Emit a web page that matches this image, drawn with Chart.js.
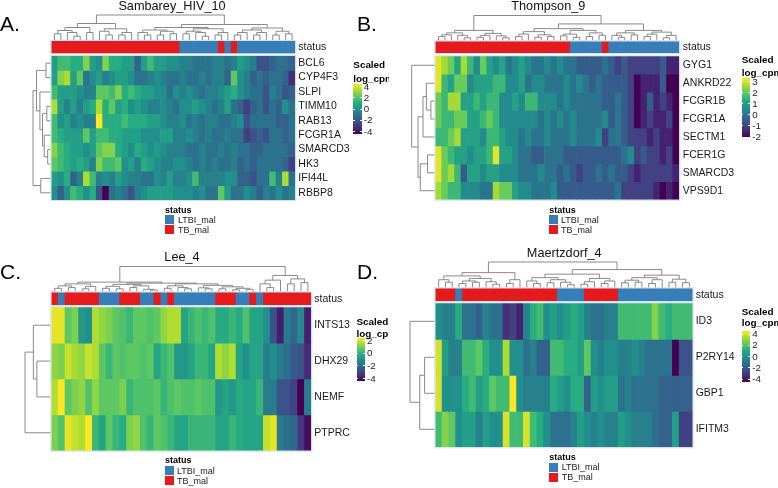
<!DOCTYPE html>
<html>
<head>
<meta charset="utf-8">
<title>Signature heatmaps</title>
<script src="https://cdn.jsdelivr.net/npm/chart.js@4.4.1/dist/chart.umd.min.js"></script>
<style>
  body { margin: 0; width: 778px; height: 488px; position: relative; overflow: hidden; background: #fff;
         font-family: "Liberation Sans", Arial, sans-serif; color: #111; }
  .panel { position: absolute; width: 389px; height: 244px; overflow: hidden; }
  .panel canvas { position: absolute; left: 0; top: 0; }
  .txt { position: absolute; white-space: nowrap; line-height: 1; transform: translateY(-50%); }
  .title { transform: translate(-50%, -50%); font-size: 12.7px; }
  .letter { position: absolute; font-size: 21px; line-height: 21px; color: #000; }
</style>
</head>
<body>
<div class="panel" id="panelA" style="left:0;top:0"><canvas id="chartA" width="389" height="244"></canvas></div>
<div class="panel" id="panelB" style="left:389px;top:0"><canvas id="chartB" width="389" height="244"></canvas></div>
<div class="panel" id="panelC" style="left:0;top:244px"><canvas id="chartC" width="389" height="244"></canvas></div>
<div class="panel" id="panelD" style="left:389px;top:244px"><canvas id="chartD" width="389" height="244"></canvas></div>
<div class="letter" style="left:0;top:12.6px">A.</div>
<div class="letter" style="left:357px;top:12.6px">B.</div>
<div class="letter" style="left:0;top:260.6px">C.</div>
<div class="letter" style="left:357px;top:260.6px">D.</div>
<script>
// ---- data ----
const sampleLabels = Array.from({ length: 38 }, (_, i) => "S" + (i + 1));
const statusNames = ["LTBI_mal", "TB_mal"];

// status per sample, written as runs of [group, count]
const statusRunsA = [["T", 20], ["L", 6], ["T", 1], ["L", 1], ["T", 1], ["L", 9]];
const statusRunsB = [["T", 21], ["L", 5], ["T", 1], ["L", 11]];
const statusRunsC = [["T", 1], ["L", 1], ["T", 5], ["L", 3], ["T", 3], ["L", 2], ["T", 1], ["L", 1], ["T", 1],
                     ["L", 6], ["T", 3], ["L", 2], ["T", 1], ["L", 1], ["T", 7]];
const statusRunsD = [["T", 3], ["L", 1], ["T", 14], ["L", 4], ["T", 5], ["L", 11]];

const genesA = ["BCL6", "CYP4F3", "SLPI", "TIMM10", "RAB13", "FCGR1A", "SMARCD3", "HK3", "IFI44L", "RBBP8"];
const valuesA = [
  [0.5,1.5,1.5,1,1,2.5,0.5,0,2.5,1,1,0.5,0.5,-1.5,0.5,1.5,0.5,0.5,0,0,-0.5,-0.5,-1,-1,-1,-0.5,-0.5,-1,-0.5,0.5,0,-0.5,-2,-2,-1.5,-1,-1,-1.5],
  [0.5,2.5,3,0.5,2,-1,0,0.5,-0.5,0,0.5,0.5,0,-1,-1,-0.5,0,-0.5,-1,-1,-0.5,-1,-1,-0.5,-1,-0.5,-0.5,-1.5,2,0,-0.5,-1.5,-1,-1.5,-1,-1,-1.5,-3],
  [1.5,0.5,0.5,0.5,0,-0.5,-0.5,2,2,1.5,2.5,1,1.5,1,0.5,0.5,0,0,-1,0,-0.5,0,-0.5,-1,-0.5,-0.5,0,0.5,1,0,-0.5,-1,-1,-2,-0.5,-1,-2,-1.5],
  [3,0.5,-0.5,0.5,-0.5,0.5,1,3,1,2,0.5,1,0,0.5,0,-0.5,-0.5,0,-0.5,-1,0,0,0.5,0,-0.5,-1,-0.5,0.5,-1,-1.5,-2.5,-1.5,-1,-2,-1,-1.5,0,-1],
  [1.5,0,0.5,-0.5,0,-0.5,-0.5,4,1,1,1,1.5,1,1,1,0.5,0.5,0,-0.5,-0.5,0,-1,-0.5,-1,-0.5,-0.5,-1,-1,-0.5,0,-2,-1,-1,-1,-1,-1.5,-1.5,-1],
  [1.5,1,0.5,0.5,0.5,2,0.5,1.5,1.5,1,1,0.5,0.5,0.5,0,0,0,0.5,0.5,-0.5,-0.5,0,-0.5,-1,-0.5,-1,-1,-0.5,-1,-1,-2.5,-2,-1.5,-2,-1,-1,-1.5,-1],
  [2.5,1.5,1,0.5,0.5,0,0.5,2,2.5,2.5,1,0.5,0,1,0.5,0,0.5,0,-0.5,-0.5,-0.5,-1,-1,-0.5,-1,-1,-0.5,-1,-0.5,-1,-1,-1.5,-1.5,-1,-1,-1,-1,-1.5],
  [2,1.5,1,0.5,1,0.5,-0.5,2.5,1.5,1.5,2,0,0.5,-0.5,1,0.5,0,-0.5,-0.5,0,0,-0.5,-1,-0.5,-1,-0.5,-1,-1,-0.5,-1.5,-1,-1.5,-1,-1,-1,-1,-1.5,-2.5],
  [0.5,0,1,-1.5,-0.5,3,1.5,-0.5,0,-0.5,0.5,0,-0.5,-0.5,-1,-1,0,-0.5,0.5,-0.5,-0.5,0,1.5,-0.5,-0.5,-0.5,-0.5,0,0,-1.5,-1.5,-2,-1,-1,1.5,-0.5,3,-1],
  [0,-1.5,0,1.5,1,0,1,-2,-4,-1,-0.5,-1,-2,-0.5,0,0.5,0.5,0.5,0.5,0,0,0,-0.5,0,-1,-1,2,0.5,-1,-1,0,-0.5,-1.5,-0.5,-1,0,-1,-0.5]
];

const genesB = ["GYG1", "ANKRD22", "FCGR1B", "FCGR1A", "SECTM1", "FCER1G", "SMARCD3", "VPS9D1"];
const valuesB = [
  [3,2.5,2,1,2.5,1.5,0.5,2,1,0.5,1,0,0.5,1,0.5,0,0,0.5,0,0.5,0,0,-0.5,-0.5,-0.5,-0.5,0,-0.5,-1,-0.5,-1,-1,-1,-1,-1,-0.5,-1.5,-1.5],
  [3,1.5,1,2,2,0.5,1,1,1,1.5,1.5,0.5,0.5,1,0,0.5,0.5,0,0,0,0.5,0,0.5,0,-0.5,0,-0.5,-0.5,-0.5,-0.5,-1,-2,-1.5,-1.5,-1.5,-0.5,-2,-2],
  [2,1.5,2.5,2.5,1,1,1.5,1,1.5,1.5,0.5,0.5,1,0.5,1.5,1.5,0.5,0.5,0.5,0,0.5,0,0,0,0,0,-0.5,-0.5,0,-0.5,-1,-2,-1.5,-0.5,-1.5,-1,-1.5,-2],
  [2,1.5,1.5,2,2,1,1,1.5,2,1.5,0.5,0.5,0.5,0.5,0.5,0.5,0,0.5,0,0.5,0,0.5,0,0,0,0,0.5,-0.5,0,-0.5,-1,-2,-1.5,-1,-1.5,-1.5,-1,-2],
  [1.5,1.5,2,2.5,1,1,1,0.5,1.5,1.5,1,0.5,0.5,0,0.5,0,0,0.5,0,0,0,0.5,0,0,0,0.5,-1,0,0,-0.5,-1,-1,-1,-1.5,-1,-1.5,-1.5,-2],
  [3,2,1.5,1,1,0.5,1,1,1.5,3,1,1,0.5,0,0,-0.5,-0.5,0,0,0,-0.5,-0.5,-0.5,-0.5,-0.5,-0.5,-0.5,-0.5,-0.5,0,0.5,-1,-0.5,-1,-1,-1.5,-1,-2],
  [3,2,2.5,1.5,-0.5,1,1,0.5,1,1,0.5,0.5,0.5,0,0,0,0.5,0,0,-0.5,0,-0.5,-1,-0.5,-0.5,0,-0.5,0,-0.5,-0.5,-1,-1.5,-1,-1,-1,-1,-1,-1.5],
  [2.5,2,1.5,1.5,0.5,0.5,0.5,0,0,2.5,2,2,1,0.5,0.5,0,0,0,0.5,-0.5,-0.5,-0.5,-0.5,-0.5,-0.5,-0.5,-0.5,-0.5,0,-1,-1,-1,-1,-1,-1.5,-2,-1.5,-2]
];

const genesC = ["INTS13", "DHX29", "NEMF", "PTPRC"];
const valuesC = [
  [1.8,1.8,0.5,0.8,-0.8,-1,1.3,1,0.8,0.5,0.3,0,0.5,0.5,0.3,0.5,1,1.3,1.3,-0.5,0,0.3,0,0.3,-0.3,-0.3,0,-0.3,0.3,-0.5,-0.5,-1,-2.5,-3.5,-1.5,-2,-1.2,-3.5],
  [1,0.8,1.5,1.2,1,1.5,1.3,0.5,0,0.5,0.3,0.5,0.5,0.3,0.5,-0.5,0,0.3,-0.8,-0.8,-0.5,0,0,-0.5,1.3,1,1.3,-0.5,-1,-0.5,-0.5,-1.5,-1,-1.5,-1.8,-2.3,-2.5,-3.3],
  [1.3,2,0.5,0.8,1,0.3,1,0.5,0.5,0.5,0.8,0,0.3,0.3,0.3,0.5,0,0.3,0.5,0.3,0.3,0.5,0.3,0.3,-0.8,-0.5,-0.8,-0.3,-0.5,-0.5,0,-1.5,-1.5,-2.5,-2.5,-2.8,-4,-1.5],
  [0.8,0.3,1.8,1.5,1.3,2,0,-0.5,0.5,0,-0.3,0.8,1,0.3,0,0.5,0.3,0,-0.5,-0.5,0,0,0,0,-0.5,-0.5,0,-0.3,-0.5,-0.5,-0.5,1.5,1.8,-1.5,-1.8,-2,-3,-3.8]
];

const genesD = ["ID3", "P2RY14", "GBP1", "IFITM3"];
const valuesD = [
  [0,-0.5,-0.5,1,-1,-1,-1.5,-0.5,-1,-1,-3,-2.5,-3.3,-0.5,1,1.5,0,0.5,0,0.5,1,0.5,-0.5,-1,-1,-0.5,-0.5,1.5,1.5,1.5,1.5,1.5,2.5,1.5,1,1.5,1.5,1.5],
  [3.5,0.5,-0.5,-0.5,1.5,1.5,2,1,0,0,3,0,0,-1,-0.5,-1.5,-1.5,1.5,1.5,1,1,0.5,2,0,-0.5,0,0,-0.5,-0.5,0,-0.5,-1,-1,-1,-1,-4,-2,-2],
  [3.5,0,0,0,1,1.5,0.5,1,2,1.5,1.5,4,0,-0.5,-0.5,-0.5,-0.5,1,0.5,0,1,1,-1.5,0.5,0,0.5,0.5,-1,-0.5,-1,-1,-1,-1,-1.5,-1.5,-1.5,-1.5,-1.5],
  [1.5,2.5,2,0,0.5,0.5,-0.5,0.5,0,0,3.5,1.5,1.5,3.5,1.5,1,0,-1,-1,-1,-0.5,0.5,0,-0.5,0,-0.5,-0.5,0.5,0,-0.5,-0.5,-0.5,-1,-1.5,-1.5,0.5,-2.5,-2.5]
];

// colour scale limits and legend ticks
const rangeA = [-4, 4], ticksA = [4, 2, 0, -2, -4];
const rangeB = [-2, 3.2], ticksB = [3, 2, 1, 0, -1, -2];
const rangeC = [-4, 2], ticksC = [2, 0, -2, -4];
const rangeD = [-4, 4], ticksD = [4, 2, 0, -2, -4];

// dendrograms: [height, left, right], leaves are sample / gene indexes
const colTreeA = [1.0,
  [0.66,
    [0.5, [0.38, [0.25, 0, 1], [0.3, 2, [0.15, 3, 4]]], [0.3, 5, 6]],
    [0.45, [0.35, 7, [0.2, 8, 9]], [0.3, [0.2, 10, 11], 12]]],
  [0.62,
    [0.5, [0.4, [0.3, 13, [0.2, 14, 15]], [0.35, [0.2, 16, 17], [0.25, 18, 19]]],
          [0.45, [0.35, [0.25, 20, 21], [0.3, 22, [0.15, 23, 24]]], [0.3, [0.2, 25, 26], 27]]],
    [0.48, [0.4, [0.3, [0.2, 28, 29], 30], [0.3, [0.2, 31, 32], 33]], [0.35, [0.2, 34, 35], [0.25, 36, 37]]]]];
const rowTreeA = [1.0, [0.8, [0.25, 0, 1], [0.6, 2, [0.45, [0.2, 3, 4], [0.35, 5, [0.15, 6, 7]]]]], [0.55, 8, 9]];

const colTreeB = [1.0,
  [0.4, [0.3, [0.22, [0.15, 0, 1], 2], [0.2, 3, [0.1, 4, 5]]], [0.28, [0.2, [0.12, 6, 7], 8], [0.18, 9, [0.1, 10, 11]]]],
  [0.66,
    [0.47, [0.35, [0.25, [0.15, 12, 13], 14], [0.22, [0.12, 15, 16], [0.15, 17, 18]]],
           [0.4, [0.25, [0.18, 19, 20], [0.12, 21, 22]], [0.3, [0.15, 23, 24], [0.2, 25, 26]]]],
    [0.4, [0.3, [0.2, 27, [0.12, 28, 29]], [0.22, 30, 31]], [0.33, [0.25, [0.15, 32, 33], 34], [0.2, [0.1, 35, 36], 37]]]]];
const rowTreeB = [1.0, 0, [0.72, [0.5, [0.35, 1, [0.15, 2, 3]], 4], [0.62, [0.3, 5, 6], 7]]];

const colTreeC = [1.0,
  [0.37,
    [0.3, [0.22, [0.12, 0, 1], [0.15, 2, 3]], [0.2, [0.1, 4, 5], 6]],
    [0.33,
      [0.28, [0.2, [0.12, 7, 8], [0.1, 9, 10]], [0.22, [0.15, 11, 12], [0.08, 13, [0.05, 14, 15]]]],
      [0.3, [0.22, [0.12, 16, 17], [0.15, 18, [0.1, 19, 20]]],
            [0.24, [0.14, 21, [0.1, 22, 23]], [0.18, [0.1, 24, 25], [0.12, [0.06, 26, 27], [0.08, 28, 29]]]]]]],
  [0.64, [0.45, [0.3, 30, [0.15, 31, 32]], 33], [0.5, [0.3, 34, 35], [0.35, 36, 37]]]];
const rowTreeC = [1.0, [0.67, 0, [0.53, 1, 2]], 3];

const colTreeD = [1.0,
  [0.58, [0.45, [0.3, 0, [0.2, 1, 2]], [0.35, [0.25, [0.15, 3, 4], [0.2, 5, 6]], [0.22, 7, [0.12, 8, 9]]]],
         [0.3, [0.15, 10, 11], 12]],
  [0.7,
    [0.52, [0.38, [0.25, 13, [0.15, 14, 15]], [0.3, [0.18, 16, 17], [0.2, 18, [0.1, 19, 20]]]],
           [0.35, [0.22, [0.12, 21, 22], 23], [0.25, [0.15, 24, 25], 26]]],
    [0.48, [0.38, [0.28, [0.18, 27, 28], [0.2, 29, 30]], [0.3, [0.15, 31, 32], 33]], [0.32, [0.2, 34, 35], [0.18, 36, 37]]]]];
const rowTreeD = [1.0, 0, [0.6, [0.4, 1, 2], 3]];

// ---- helpers ----
const viridisStops = ["#440154", "#472D7B", "#3B528B", "#2C728E", "#21908C", "#27AD81", "#5DC863", "#AADC32", "#FDE725"];
const statusColors = { T: "#E41A1C", L: "#377EB8" };

function hexRgb(h) {
  return [parseInt(h.slice(1, 3), 16), parseInt(h.slice(3, 5), 16), parseInt(h.slice(5, 7), 16)];
}

function viridis(t) {
  t = Math.max(0, Math.min(1, t));
  const p = t * (viridisStops.length - 1);
  const i = Math.min(Math.floor(p), viridisStops.length - 2);
  const f = p - i;
  const a = hexRgb(viridisStops[i]), b = hexRgb(viridisStops[i + 1]);
  const c = a.map((v, k) => Math.round(v + (b[k] - v) * f));
  return `rgb(${c[0]},${c[1]},${c[2]})`;
}

function expandRuns(runs) {
  const out = [];
  runs.forEach(([g, n]) => { for (let i = 0; i < n; i++) out.push(g); });
  return out;
}

function addText(panel, text, x, y, style, cls) {
  const d = document.createElement("div");
  d.className = cls || "txt";
  d.textContent = text;
  d.style.cssText = `left:${x}px;top:${y}px;${style || ""}`;
  panel.appendChild(d);
  return d;
}

function addBox(panel, x, y, w, h, bg) {
  const d = document.createElement("div");
  d.style.cssText = `position:absolute;left:${x}px;top:${y}px;width:${w}px;height:${h}px;background:${bg};`;
  panel.appendChild(d);
}

function colorLegend(panel, lg, ticks) {
  addText(panel, "Scaled", lg.x, lg.scaledY, "font-size:9.9px;font-weight:bold;color:#000");
  addText(panel, "log_cpm", lg.x, lg.logY, "font-size:9.9px;font-weight:bold;color:#000");
  addBox(panel, lg.x, lg.barTop, 8.5, lg.barBot - lg.barTop,
    `linear-gradient(to top, ${viridisStops.join(",")})`);
  const step = (lg.tickBot - lg.tickTop) / (ticks.length - 1);
  ticks.forEach((t, i) => {
    const yy = lg.tickTop + i * step;
    addBox(panel, lg.x, yy - 0.5, 1.8, 1, "#fff");
    addBox(panel, lg.x + 6.7, yy - 0.5, 1.8, 1, "#fff");
    addText(panel, String(t), lg.x + 10.5, yy, "font-size:9.8px;color:#222");
  });
}

function statusLegend(panel, sl) {
  addText(panel, "status", sl.x, sl.titleY, "font-size:9px;font-weight:bold;color:#000");
  addBox(panel, sl.x, sl.box1, 9, 9, statusColors.L);
  addBox(panel, sl.x, sl.box2, 9, 9, statusColors.T);
  addText(panel, statusNames[0], sl.textX, sl.box1 + 4.5, "font-size:9px;color:#222");
  addText(panel, statusNames[1], sl.textX, sl.box2 + 4.5, "font-size:9px;color:#222");
}

Chart.defaults.font.family = '"Liberation Sans", Arial, sans-serif';

function drawHeatmap(canvasId, genes, values, status, range, colTree, rowTree, box) {
  const n = genes.length;
  const W = 389, H = 244;
  const rowPx = (box.heatBot - box.heatTop) / n;
  const gap = (box.heatTop - box.statusBot) / rowPx;
  const statusSpan = (box.statusBot - box.statusTop) / rowPx;
  const yMin = -(gap + statusSpan);
  const toColor = (v) => viridis((v - range[0]) / (range[1] - range[0]));

  const cell = { barPercentage: 1, categoryPercentage: 1, grouped: false, borderWidth: 0 };
  const datasets = [Object.assign({
    data: status.map(() => [yMin, -gap]),
    backgroundColor: status.map((s) => statusColors[s]),
  }, cell)];
  values.forEach((row, r) => {
    datasets.push(Object.assign({
      data: row.map(() => [r, r + 1]),
      backgroundColor: row.map(toColor),
    }, cell));
  });

  const tickValues = [yMin + statusSpan / 2].concat(genes.map((g, r) => r + 0.5));
  const tickLabels = ["status"].concat(genes);

  const frame = {
    id: "frame",
    afterDatasetsDraw(chart) {
      const { ctx, chartArea: area, scales: { y } } = chart;
      ctx.save();
      ctx.strokeStyle = "#cfe2ea";
      ctx.lineWidth = 1;
      const t0 = y.getPixelForValue(0), t1 = y.getPixelForValue(n);
      ctx.strokeRect(area.left - 0.5, t0 - 0.5, area.width + 1, t1 - t0 + 1);
      const s0 = y.getPixelForValue(yMin), s1 = y.getPixelForValue(-gap);
      ctx.strokeRect(area.left - 0.5, s0 - 0.5, area.width + 1, s1 - s0 + 1);
      ctx.restore();
    },
  };

  const dendro = {
    id: "dendro",
    afterDraw(chart) {
      const { ctx, chartArea: area, scales: { x, y } } = chart;
      ctx.save();
      ctx.strokeStyle = "#7d7d7d";
      ctx.lineWidth = 0.9;
      ctx.beginPath();
      const leafY = area.top - 1;
      const walkCol = (node) => {
        if (typeof node === "number") return { p: x.getPixelForValue(node), q: leafY };
        const a = walkCol(node[1]), b = walkCol(node[2]);
        const yy = leafY - node[0] * (leafY - box.colRootY);
        ctx.moveTo(a.p, a.q); ctx.lineTo(a.p, yy); ctx.lineTo(b.p, yy); ctx.lineTo(b.p, b.q);
        return { p: (a.p + b.p) / 2, q: yy };
      };
      walkCol(colTree);
      const leafX = area.left - 1;
      const walkRow = (node) => {
        if (typeof node === "number") return { p: y.getPixelForValue(node + 0.5), q: leafX };
        const a = walkRow(node[1]), b = walkRow(node[2]);
        const xx = leafX - node[0] * (leafX - box.rowRootX);
        ctx.moveTo(a.q, a.p); ctx.lineTo(xx, a.p); ctx.lineTo(xx, b.p); ctx.lineTo(b.q, b.p);
        return { p: (a.p + b.p) / 2, q: xx };
      };
      walkRow(rowTree);
      ctx.stroke();
      ctx.restore();
    },
  };

  return new Chart(document.getElementById(canvasId).getContext("2d"), {
    type: "bar",
    data: { labels: sampleLabels, datasets: datasets },
    options: {
      responsive: false,
      animation: false,
      devicePixelRatio: 1,
      events: [],
      layout: { padding: { left: box.left, top: box.statusTop, right: 0, bottom: H - box.heatBot } },
      plugins: { legend: { display: false }, tooltip: { enabled: false } },
      scales: {
        x: { display: false, offset: true },
        y: {
          position: "right",
          reverse: true,
          min: yMin,
          max: n,
          grid: { display: false, drawTicks: false },
          border: { display: false },
          ticks: {
            autoSkip: false,
            padding: box.labelPad,
            color: "#1a1a1a",
            font: { size: 10.5 },
            callback: (v, i) => tickLabels[i],
          },
          afterBuildTicks: (s) => { s.ticks = tickValues.map((v) => ({ value: v })); },
          afterFit: (s) => { s.width = W - box.right; },
        },
      },
    },
    plugins: [frame, dendro],
  });
}

// ---- build the four panels ----
const panelA = document.getElementById("panelA");
const panelB = document.getElementById("panelB");
const panelC = document.getElementById("panelC");
const panelD = document.getElementById("panelD");

drawHeatmap("chartA", genesA, valuesA, expandRuns(statusRunsA), rangeA, colTreeA, rowTreeA,
  { left: 51.3, right: 295.3, statusTop: 41, statusBot: 53.3, heatTop: 56, heatBot: 200, colRootY: 15, rowRootX: 33, labelPad: 3 });
drawHeatmap("chartB", genesB, valuesB, expandRuns(statusRunsB), rangeB, colTreeB, rowTreeB,
  { left: 46.3, right: 290.3, statusTop: 41.3, statusBot: 53, heatTop: 56.3, heatBot: 199.7, colRootY: 15.5, rowRootX: 22.7, labelPad: 3.5 });
drawHeatmap("chartC", genesC, valuesC, expandRuns(statusRunsC), rangeC, colTreeC, rowTreeC,
  { left: 51.3, right: 311.3, statusTop: 48.3, statusBot: 61, heatTop: 63.3, heatBot: 206.7, colRootY: 22.5, rowRootX: 25, labelPad: 3 });
drawHeatmap("chartD", genesD, valuesD, expandRuns(statusRunsD), rangeD, colTreeD, rowTreeD,
  { left: 46.3, right: 303.7, statusTop: 44.3, statusBot: 57, heatTop: 59.3, heatBot: 203.3, colRootY: 18, rowRootX: 21, labelPad: 3 });

addText(panelA, "Sambarey_HIV_10", 172, 6, "", "txt title");
addText(panelB, "Thompson_9", 159.3, 6, "", "txt title");
addText(panelC, "Lee_4", 182, 12.7, "", "txt title");
addText(panelD, "Maertzdorf_4", 175.2, 9.3, "", "txt title");

colorLegend(panelA, { x: 353.3, scaledY: 65, logY: 79, barTop: 84.3, barBot: 134, tickTop: 86.5, tickBot: 131.7 }, ticksA);
colorLegend(panelB, { x: 352.7, scaledY: 60, logY: 72.7, barTop: 78.3, barBot: 137.3, tickTop: 81.7, tickBot: 137 }, ticksB);
colorLegend(panelC, { x: 356.5, scaledY: 77.7, logY: 90.3, barTop: 94, barBot: 137, tickTop: 96.5, tickBot: 134.5 }, ticksC);
colorLegend(panelD, { x: 352.7, scaledY: 67.7, logY: 79.3, barTop: 86.7, barBot: 137.7, tickTop: 90, tickBot: 135.3 }, ticksD);

statusLegend(panelA, { x: 165, titleY: 210, box1: 215, box2: 225, textX: 178 });
statusLegend(panelB, { x: 160.3, titleY: 210, box1: 215, box2: 225, textX: 172 });
statusLegend(panelC, { x: 165, titleY: 216, box1: 222, box2: 232, textX: 177 });
statusLegend(panelD, { x: 160.3, titleY: 213.3, box1: 218.7, box2: 228.7, textX: 172.7 });
</script>
</body>
</html>
